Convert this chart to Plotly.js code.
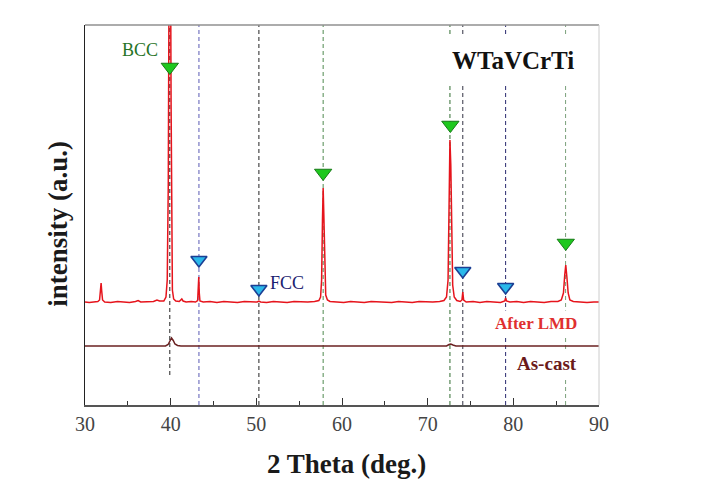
<!DOCTYPE html>
<html>
<head>
<meta charset="utf-8">
<script src="https://cdn.plot.ly/plotly-3.0.1.min.js"></script>
<style>html,body{margin:0;padding:0;background:#fff;}#chart{width:706px;height:497px;}</style>
</head>
<body>
<div id="chart"></div>
<script>
// After LMD pattern (2theta, intensity offset in a.u.)
const lmdTheta = [30.0,30.5,31.0,31.5,31.7,31.8,31.88,31.95,32.05,32.3,33.0,33.8,34.5,35.2,35.9,36.2,36.5,37.2,38.0,38.4,38.7,39.2,39.45,39.6,39.72,39.82,39.9,39.98,40.05,40.12,40.2,40.35,40.6,41.0,41.3,41.45,41.8,42.4,42.9,43.15,43.22,43.28,43.34,43.42,43.8,44.6,45.4,46.2,47.0,47.8,48.6,49.4,50.1,50.3,50.5,51.2,52.0,52.8,53.6,54.4,55.2,56.0,56.8,57.3,57.5,57.62,57.72,57.8,57.88,57.98,58.1,58.3,58.6,59.4,60.2,61.0,61.8,62.6,63.4,64.2,65.0,65.8,66.6,67.4,68.2,69.0,69.8,70.6,71.4,71.9,72.2,72.38,72.5,72.6,72.7,72.8,72.92,73.1,73.4,73.8,74.0,74.1,74.2,74.5,75.3,76.1,76.9,77.7,78.5,79.0,79.1,79.2,79.6,80.4,81.2,82.0,82.8,83.6,84.4,85.2,85.6,85.85,86.0,86.12,86.25,86.4,86.6,87.0,87.8,88.6,89.4,90.0];
const lmdInt = [103,102.5,103,103.5,105,113,122,114,105,103,102.5,103.5,103,102.5,103.5,104.5,103,103,103.5,105,104,104,108,125,220,450,600,460,300,160,115,106,104,103.5,106,104,103,103.5,103,104.5,115,128,112,104,103,103.5,102.5,103.5,103,102.5,103.5,103,103,104,103,102.5,103.5,103,102.5,103.5,103,103,103.5,104.5,108,125,185,217,190,130,110,105,103.5,103,102.5,103.5,103,102.5,103.5,103,103,102.5,103.5,103,102.5,103.5,103,103,103.5,104.5,108,125,200,265,240,170,120,108,104.5,103.5,105,113,105,103,103.5,102.5,103.5,103,102.5,104,107,104,103,103.5,102.5,103.5,103,102.5,103.5,103.5,105,112,130,140,128,112,105,103.5,103,102.5,103,103];

// As-cast pattern
const castTheta = [30,35,39.4,39.7,39.95,40.1,40.3,40.5,40.8,41.2,50,60,72.2,72.5,72.7,72.95,73.3,80,90];
const castInt = [59,59,59,60.5,64,67,64.5,61,59.5,59,59,59,59,60.5,61,60,59,59,59];

// Phase markers
const bccTheta = [39.9,57.8,72.65,86.12];
const bccY = [338,232,280,162];
const fccTheta = [43.3,50.3,74.1,79.1];
const fccY = [145,116,134,118];

// Reference lines
const refTheta = [39.9,43.3,50.3,57.8,72.6,74.1,79.1,86.1];
const refColor = ['#222222','#5a5ab4','#222222','#4f8a4f','#2f6b2f','#333344','#2a2a70','#7aa07a'];
const refBottom = [30,0,0,0,0,0,0,0];

const xTicks = [30,40,50,60,70,80,90];

const serif = 'Liberation Serif, Times New Roman, serif';

const traces = [
  {x: lmdTheta, y: lmdInt, type:'scatter', mode:'lines', line:{color:'#e6141c', width:1.5}, hoverinfo:'skip'},
  {x: castTheta, y: castInt, type:'scatter', mode:'lines', line:{color:'#6b2222', width:1.5}, hoverinfo:'skip'},
  {x: bccTheta, y: bccY, type:'scatter', mode:'markers', marker:{symbol:'triangle-down', size:15, color:'#1ec81e', line:{color:'#177a17', width:1}}, hoverinfo:'skip'},
  {x: fccTheta, y: fccY, type:'scatter', mode:'markers', marker:{symbol:'triangle-down', size:14, color:'#2ab8ea', line:{color:'#1c3f94', width:1.6}}, hoverinfo:'skip'}
];

const shapes = refTheta.map((t,i)=>({type:'line', xref:'x', yref:'y', x0:t, x1:t, y0:refBottom[i], y1:380, layer:'below', line:{color:refColor[i], width:1, dash:'4px,3px'}}));
// frame (top, right)
shapes.push({type:'line', xref:'paper', yref:'paper', x0:0, x1:1, y0:1, y1:1, line:{color:'#909090', width:1.5}});
shapes.push({type:'line', xref:'paper', yref:'paper', x0:1, x1:1, y0:0, y1:1, line:{color:'#cccccc', width:1}});

const annotations = [
  {text:'BCC', xref:'x', yref:'y', x:36.4, y:355, showarrow:false, font:{family:serif, size:18, color:'#267326'}},
  {text:'FCC', xref:'x', yref:'y', x:53.6, y:122, showarrow:false, font:{family:serif, size:18, color:'#1a2270'}},
  {text:'<b>WTaVCrTi</b>', xref:'x', yref:'y', x:80.0, y:345, showarrow:false, bgcolor:'#ffffff', borderpad:10, font:{family:serif, size:25, color:'#111111'}},
  {text:'<b>After LMD</b>', xref:'x', yref:'y', x:82.6, y:82, showarrow:false, bgcolor:'#ffffff', borderpad:3, font:{family:serif, size:17, color:'#e03030'}},
  {text:'<b>As-cast</b>', xref:'x', yref:'y', x:83.9, y:42, showarrow:false, bgcolor:'#ffffff', borderpad:3, font:{family:serif, size:19, color:'#6b1a1a'}},
  {text:'<b>2 Theta (deg.)</b>', xref:'paper', yref:'paper', x:0.508, y:-0.155, xanchor:'center', yanchor:'middle', showarrow:false, font:{family:serif, size:27, color:'#1a1a1a'}},
  {text:'<b>intensity (a.u.)</b>', xref:'paper', yref:'paper', x:-0.0516, y:0.478, xanchor:'center', yanchor:'middle', textangle:-90, showarrow:false, font:{family:serif, size:27, color:'#1a1a1a'}}
];

const layout = {
  width:706, height:497,
  margin:{l:85, r:107, t:25, b:92},
  paper_bgcolor:'#ffffff', plot_bgcolor:'#ffffff',
  showlegend:false,
  xaxis:{range:[30,90], tickvals:xTicks, ticktext:xTicks.map(String), ticks:'inside', ticklen:7, tickcolor:'#333', tickwidth:1,
         minor:{ticks:'inside', dtick:5, ticklen:4, tickcolor:'#333', showgrid:false},
         showline:true, linecolor:'#555', linewidth:1.5, showgrid:false, zeroline:false,
         tickfont:{family:serif, size:20, color:'#444'}},
  yaxis:{range:[0,380], showticklabels:false, ticks:'', showline:true, linecolor:'#222', linewidth:1.5, showgrid:false, zeroline:false},
  shapes: shapes,
  annotations: annotations
};

Plotly.newPlot('chart', traces, layout, {displayModeBar:false, staticPlot:true});
</script>
</body>
</html>
